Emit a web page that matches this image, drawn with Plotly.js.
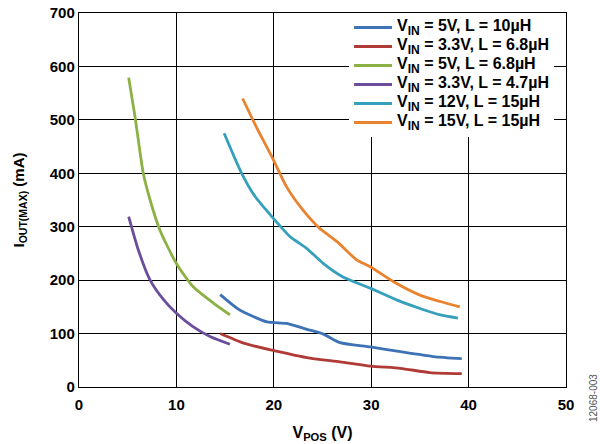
<!DOCTYPE html>
<html>
<head>
<meta charset="utf-8">
<script src="https://cdn.plot.ly/plotly-3.0.1.min.js"></script>
<style>html,body{margin:0;padding:0;background:#fff;}#chart{width:600px;height:444px;}</style>
</head>
<body>
<div id="chart"></div>
<script>
// Series names
const names = [
  "V<sub>IN</sub> = 5V, L = 10µH",
  "V<sub>IN</sub> = 3.3V, L = 6.8µH",
  "V<sub>IN</sub> = 5V, L = 6.8µH",
  "V<sub>IN</sub> = 3.3V, L = 4.7µH",
  "V<sub>IN</sub> = 12V, L = 15µH",
  "V<sub>IN</sub> = 15V, L = 15µH"
];
const colors = ["#3d72b4", "#b03a36", "#8bb043", "#6a4e9c", "#35a0bb", "#e9832f"];

// VIN = 5V, L = 10uH
const vpos1 = [14.5, 16.5, 19.3, 21.3, 23.4, 25.1, 26.8, 29.9, 33.0, 36.4, 39.3];
const iout1 = [173, 144, 122, 119, 108, 99, 83, 75, 66, 57, 53];
// VIN = 3.3V, L = 6.8uH
const vpos2 = [14.5, 16.9, 19.8, 23.7, 26.8, 29.9, 33.0, 36.0, 39.3];
const iout2 = [100, 82, 69, 54, 47, 39, 35, 27, 25];
// VIN = 5V, L = 6.8uH
const vpos3 = [5.1, 5.75, 6.6, 7.3, 8.3, 10.0, 11.7, 13.8, 15.5];
const iout3 = [579, 506, 400, 350, 294, 231, 188, 157, 135];
// VIN = 3.3V, L = 4.7uH
const vpos4 = [5.1, 6.1, 7.3, 8.7, 10.0, 11.7, 13.5, 15.5];
const iout4 = [319, 256, 200, 163, 138, 113, 94, 80];
// VIN = 12V, L = 15uH
const vpos5 = [14.9, 16.7, 18.1, 19.8, 21.7, 23.4, 25.1, 27.1, 29.9, 32.6, 35.0, 37.1, 38.9];
const iout5 = [475, 400, 356, 319, 281, 259, 231, 206, 185, 163, 147, 135, 129];
// VIN = 15V, L = 15uH
const vpos6 = [16.8, 18.2, 19.8, 21.3, 23.0, 24.7, 26.5, 28.5, 29.9, 32.3, 35.0, 37.1, 39.1];
const iout6 = [540, 487, 431, 375, 331, 297, 272, 238, 225, 197, 172, 160, 150];

const xs = [vpos1, vpos2, vpos3, vpos4, vpos5, vpos6];
const ys = [iout1, iout2, iout3, iout4, iout5, iout6];

const xTicks = [0, 10, 20, 30, 40, 50];
const yTicks = [0, 100, 200, 300, 400, 500, 600, 700];

const legendLabel = n => '<span style="font-size:16px">' + n.replace('<sub>', '<sub><span style="font-size:12px">').replace('</sub>', '</span></sub>') + '</span>';

const traces = names.map((n, i) => ({
  x: xs[i], y: ys[i], name: legendLabel(n), type: "scatter", mode: "lines",
  line: {color: colors[i], width: 2.8, shape: "spline", smoothing: 0.6},
  hoverinfo: "skip"
}));

const fam = "Liberation Sans, Arial, sans-serif";

const layout = {
  width: 600, height: 444,
  margin: {l: 79, r: 34, t: 13, b: 57},
  paper_bgcolor: "#fff", plot_bgcolor: "#fff",
  font: {family: fam, color: "#000", size: 14},
  showlegend: true,
  legend: {
    x: 0.5545, xanchor: "left", y: 1.0, yanchor: "top",
    bgcolor: "#fff", borderwidth: 0, itemwidth: 38,
    font: {family: fam, size: 10, color: "#000", weight: "bold"},
    tracegroupgap: 0
  },
  xaxis: {
    range: [0, 50], tickvals: xTicks, ticktext: xTicks.map(String),
    showgrid: true, gridcolor: "#000", gridwidth: 1,
    showline: true, linecolor: "#000", linewidth: 1.2, mirror: true,
    zeroline: false, ticks: "", ticklabelstandoff: 4,
    tickfont: {family: fam, size: 15, color: "#000", weight: "bold"},
    title: {text: "V<sub>POS</sub> (V)", font: {family: fam, size: 16, color: "#000", weight: "bold"}, standoff: 14}
  },
  yaxis: {
    range: [0, 700], tickvals: yTicks, ticktext: yTicks.map(String),
    showgrid: true, gridcolor: "#000", gridwidth: 1,
    showline: true, linecolor: "#000", linewidth: 1.2, mirror: true,
    zeroline: false, ticks: "",
    tickfont: {family: fam, size: 15, color: "#000", weight: "bold"},
    title: {text: "I<sub>OUT(MAX)</sub> (mA)", font: {family: fam, size: 15, color: "#000", weight: "bold"}, standoff: 21}
  },
  annotations: [{
    text: "12068-003", xref: "paper", yref: "paper", x: 1.055, y: -0.03,
    xanchor: "center", yanchor: "middle", textangle: -90, showarrow: false,
    font: {family: fam, size: 10, color: "#555"}
  }]
};

Plotly.newPlot("chart", traces, layout, {displayModeBar: false, staticPlot: true});
</script>
</body>
</html>
